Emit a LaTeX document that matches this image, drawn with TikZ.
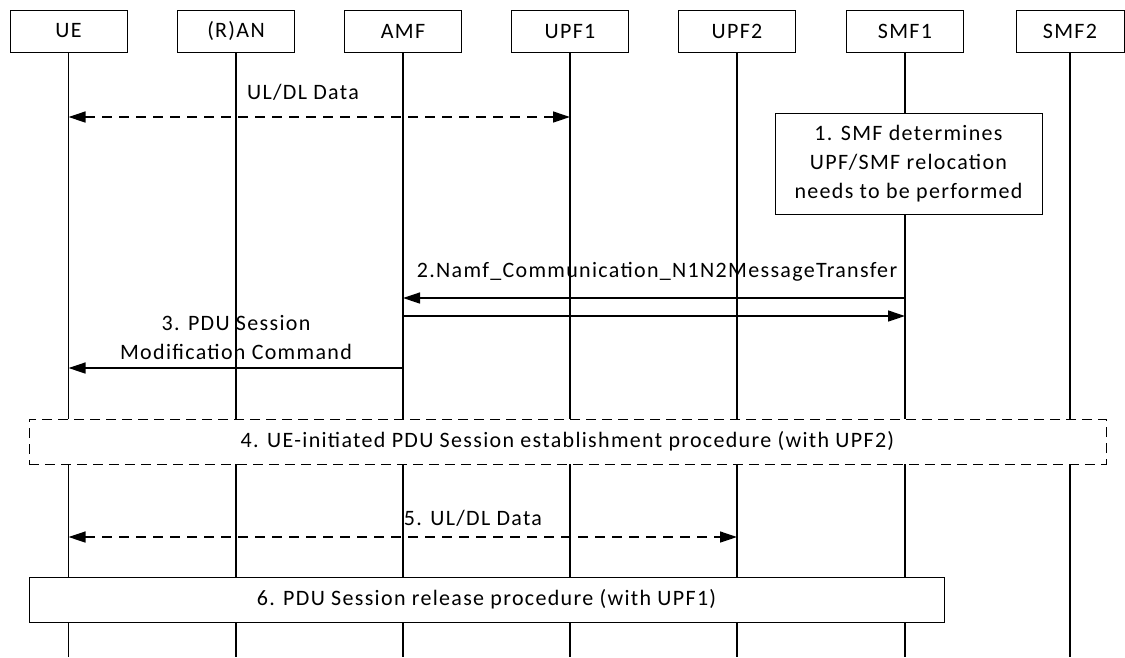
\documentclass[tikz,border=0pt]{standalone}
\usepackage{fontspec}
\setmainfont{Carlito}[LetterSpace=6.0]
\usetikzlibrary{arrows.meta}
\begin{document}
\begin{tikzpicture}[x=1pt,y=-1pt,
  every node/.style={font=\fontsize{22}{29}\selectfont},
  hdr/.style={draw,line width=1pt,minimum width=117pt,minimum height=42pt,inner sep=0pt,fill=white},
  life/.style={line width=1.3pt},
  msg/.style={line width=1.3pt,-{Triangle[length=17pt,width=11pt]}},
  dmsg/.style={line width=1.3pt,{Triangle[length=17pt,width=11pt]}-{Triangle[length=17pt,width=11pt]},dash pattern=on 10pt off 7pt},
  procbox/.style={draw,line width=1pt,fill=white,inner sep=0pt},
  lbl/.style={inner sep=0pt,align=center}
]
\useasboundingbox (0,0) rectangle (1125,657);
% headers
\node[hdr] (ue)   at (68.5,31) {UE};
\node[hdr] (ran)  at (236,31) {(R)AN};
\node[hdr] (amf)  at (403,31) {AMF};
\node[hdr] (upf1) at (570,31) {UPF1};
\node[hdr] (upf2) at (737,31) {UPF2};
\node[hdr] (smf1) at (905,31) {SMF1};
\node[hdr,minimum width=108pt] (smf2) at (1070,31) {SMF2};
\coordinate (bot) at (0,657);
% lifelines
\foreach \n in {ue,ran,amf,upf1,upf2,smf1,smf2}
  \draw[life] (\n.south) -- (\n |- bot);
% UL/DL data
\draw[dmsg] (ue |- 0,117) -- (upf1 |- 0,117);
\node[lbl] (l0) at (303,92) {UL/DL Data};
% step 1
\node[procbox,minimum width=267pt,minimum height=101pt,align=center] (s1) at (908.5,163.5)
  {1. SMF determines\\UPF/SMF relocation\\needs to be performed};
% step 2
\draw[msg] (smf1 |- 0,298) -- (amf |- 0,298);
\draw[msg] (amf |- 0,316) -- (smf1 |- 0,316);
\node[lbl] (l2) at (657,272) {2.Namf\_Communication\_N1N2MessageTransfer};
% step 3
\draw[msg] (amf |- 0,368) -- (ue |- 0,368);
\node[lbl] (l3) at (236,338) {3. PDU Session\\Modification Command};
% step 4
\node[procbox,dash pattern=on 10pt off 6pt,minimum width=1077pt,minimum height=45pt] (s4) at (567.5,441.5)
  {4. UE-initiated PDU Session establishment procedure (with UPF2)};
% step 5
\draw[dmsg] (ue |- 0,537) -- (upf2 |- 0,537);
\node[lbl] (l5) at (473,518) {5. UL/DL Data};
% step 6
\node[procbox,minimum width=915pt,minimum height=45pt] (s6) at (486.5,599.5)
  {6. PDU Session release procedure (with UPF1)};
\end{tikzpicture}
\end{document}
